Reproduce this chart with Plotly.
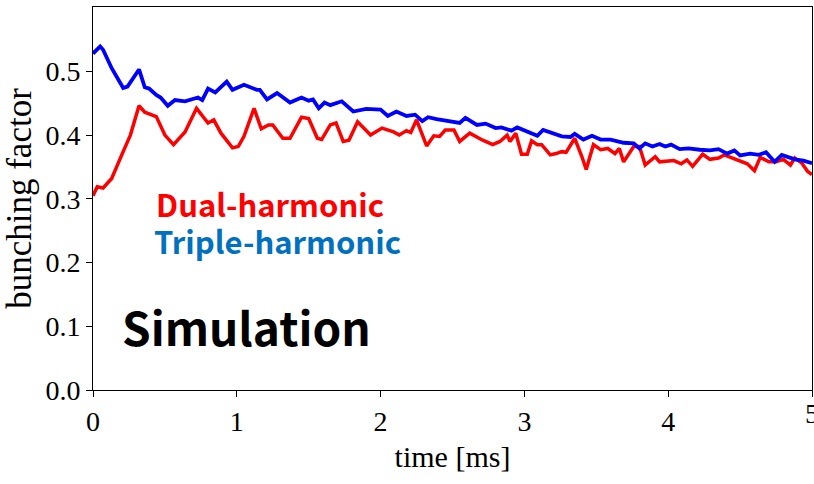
import plotly.graph_objects as go

# Triple-harmonic (blue)
t_triple = [0.00, 0.05, 0.07, 0.13, 0.21, 0.24, 0.32, 0.36, 0.39, 0.44, 0.47, 0.52, 0.57, 0.64,
            0.73, 0.76, 0.80, 0.85, 0.93, 0.97, 1.05, 1.14, 1.16, 1.21, 1.28, 1.37, 1.45, 1.50,
            1.53, 1.57, 1.61, 1.65, 1.73, 1.81, 1.90, 2.00, 2.05, 2.11, 2.18, 2.24, 2.29, 2.33,
            2.39, 2.44, 2.51, 2.55, 2.59, 2.67, 2.73, 2.80, 2.84, 2.91, 2.95, 3.04, 3.09, 3.13,
            3.19, 3.26, 3.32, 3.35, 3.41, 3.47, 3.53, 3.60, 3.69, 3.76, 3.80, 3.84, 3.89, 3.94,
            3.98, 4.02, 4.08, 4.14, 4.22, 4.29, 4.35, 4.41, 4.46, 4.50, 4.57, 4.63, 4.68, 4.74,
            4.79, 4.85, 4.88, 4.94, 5.00]
bf_triple = [0.528, 0.539, 0.534, 0.505, 0.474, 0.476, 0.503, 0.475, 0.473, 0.463, 0.459, 0.446, 0.455, 0.453,
             0.459, 0.455, 0.473, 0.467, 0.484, 0.471, 0.479, 0.471, 0.471, 0.456, 0.466, 0.451, 0.459, 0.454,
             0.456, 0.442, 0.451, 0.447, 0.453, 0.437, 0.441, 0.440, 0.430, 0.437, 0.430, 0.432, 0.422, 0.428,
             0.425, 0.423, 0.420, 0.419, 0.427, 0.416, 0.418, 0.411, 0.412, 0.407, 0.412, 0.403, 0.399, 0.408,
             0.403, 0.398, 0.397, 0.402, 0.393, 0.399, 0.393, 0.393, 0.388, 0.387, 0.379, 0.387, 0.382, 0.386,
             0.382, 0.385, 0.378, 0.379, 0.377, 0.376, 0.378, 0.371, 0.376, 0.368, 0.371, 0.369, 0.373, 0.358,
             0.369, 0.364, 0.362, 0.360, 0.356]

# Dual-harmonic (red)
t_dual = [0.00, 0.03, 0.07, 0.13, 0.20, 0.26, 0.32, 0.36, 0.44, 0.50, 0.56, 0.64, 0.72, 0.80, 0.84,
          0.89, 0.97, 1.01, 1.05, 1.12, 1.17, 1.22, 1.25, 1.32, 1.37, 1.45, 1.50, 1.56, 1.59, 1.65,
          1.69, 1.74, 1.78, 1.84, 1.93, 2.01, 2.09, 2.13, 2.18, 2.21, 2.25, 2.29, 2.32, 2.37, 2.41,
          2.45, 2.51, 2.55, 2.62, 2.71, 2.78, 2.83, 2.88, 2.90, 2.94, 2.98, 3.02, 3.05, 3.09, 3.12,
          3.18, 3.22, 3.26, 3.29, 3.35, 3.40, 3.43, 3.48, 3.53, 3.58, 3.63, 3.66, 3.69, 3.76, 3.80,
          3.84, 3.91, 3.94, 4.04, 4.09, 4.13, 4.17, 4.24, 4.29, 4.35, 4.39, 4.45, 4.55, 4.60, 4.64,
          4.70, 4.75, 4.80, 4.85, 4.88, 4.93, 4.97, 5.00]
bf_dual = [0.305, 0.319, 0.317, 0.332, 0.369, 0.400, 0.446, 0.436, 0.429, 0.400, 0.385, 0.405, 0.442, 0.419, 0.424,
           0.403, 0.380, 0.382, 0.398, 0.442, 0.410, 0.416, 0.416, 0.395, 0.395, 0.428, 0.426, 0.395, 0.393, 0.416,
           0.419, 0.390, 0.392, 0.421, 0.400, 0.411, 0.405, 0.400, 0.407, 0.404, 0.424, 0.400, 0.383, 0.399, 0.398,
           0.408, 0.408, 0.390, 0.403, 0.392, 0.385, 0.390, 0.400, 0.390, 0.403, 0.370, 0.370, 0.391, 0.385, 0.385,
           0.369, 0.371, 0.374, 0.373, 0.395, 0.366, 0.346, 0.385, 0.377, 0.379, 0.371, 0.379, 0.358, 0.382, 0.382,
           0.353, 0.366, 0.358, 0.360, 0.355, 0.361, 0.351, 0.370, 0.362, 0.364, 0.369, 0.364, 0.355, 0.344, 0.365,
           0.358, 0.358, 0.362, 0.353, 0.364, 0.356, 0.343, 0.338]

x_ticks = [0, 1, 2, 3, 4, 5]
y_ticks = [0.0, 0.1, 0.2, 0.3, 0.4, 0.5]
y_tick_text = ["0.0", "0.1", "0.2", "0.3", "0.4", "0.5"]

fig = go.Figure()
fig.add_trace(go.Scatter(x=t_dual, y=bf_dual, mode="lines",
                         line=dict(color="#FF0000", width=3.5), name="Dual-harmonic"))
fig.add_trace(go.Scatter(x=t_triple, y=bf_triple, mode="lines",
                         line=dict(color="#0000FF", width=3.8), name="Triple-harmonic"))

serif = "Liberation Serif"
label_font = "Noto Sans CJK JP"

fig.update_layout(
    width=814, height=484,
    margin=dict(l=93, r=2, t=7, b=94),
    paper_bgcolor="white", plot_bgcolor="white",
    showlegend=False,
    xaxis=dict(range=[0, 5], tickvals=x_ticks, ticks="outside", ticklen=6, tickcolor="black",
               showline=True, linecolor="black", linewidth=1, mirror=True, showgrid=False,
               zeroline=False, tickfont=dict(family=serif, size=28, color="black"),
               title=dict(text="time [ms]", font=dict(family=serif, size=30, color="black"), standoff=10)),
    yaxis=dict(range=[0, 0.601], tickvals=y_ticks, ticktext=y_tick_text, ticks="outside", ticklen=6,
               tickcolor="black", showline=True, linecolor="black", linewidth=1, mirror=True,
               showgrid=False, zeroline=False, tickfont=dict(family=serif, size=28, color="black"),
               title=dict(text="bunching factor", font=dict(family=serif, size=35, color="black"), standoff=6)),
    annotations=[
        dict(text=str(x_ticks[-1]), xref="x", yref="paper", x=x_ticks[-1], y=0, yshift=-6,
             xanchor="center", yanchor="top", showarrow=False,
             font=dict(family=serif, size=28, color="black")),
        dict(text="<b>Dual-harmonic</b>", xref="paper", yref="paper", x=0.085, y=0.486,
             xanchor="left", yanchor="middle", showarrow=False,
             font=dict(family=label_font, size=31, color="#FF0000")),
        dict(text="<b>Triple-harmonic</b>", xref="paper", yref="paper", x=0.082, y=0.39,
             xanchor="left", yanchor="middle", showarrow=False,
             font=dict(family=label_font, size=31, color="#0070C0")),
        dict(text="<b>Simulation</b>", xref="paper", yref="paper", x=0.038, y=0.167,
             xanchor="left", yanchor="middle", showarrow=False,
             font=dict(family=label_font, size=46, color="black")),
    ],
)

fig.write_html("out.html")
